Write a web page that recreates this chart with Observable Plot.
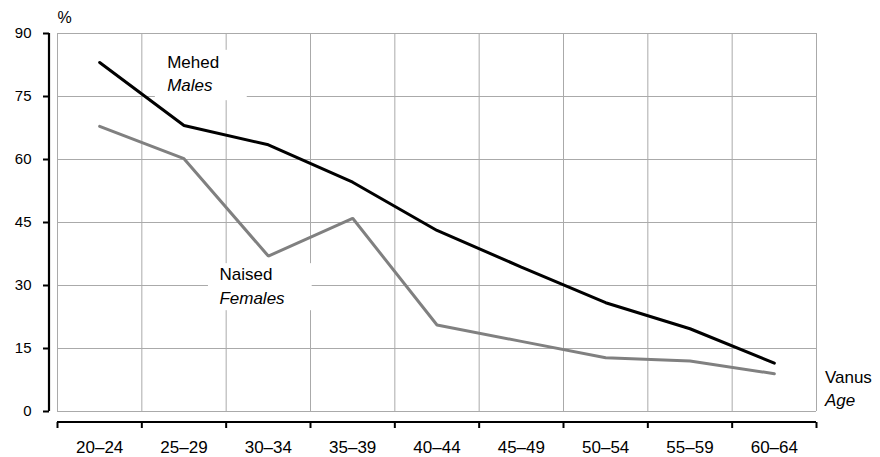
<!DOCTYPE html>
<html>
<head>
<meta charset="utf-8">
<script src="https://cdn.jsdelivr.net/npm/d3@7"></script>
<script src="https://cdn.jsdelivr.net/npm/@observablehq/plot@0.6"></script>
<style>
  html, body { margin: 0; padding: 0; background: #fff; }
  svg { display: block; }
</style>
</head>
<body>
<div id="chart"></div>
<script>
// ---- data ----
const ageGroups = ["20–24", "25–29", "30–34", "35–39", "40–44", "45–49", "50–54", "55–59", "60–64"];
const males   = [83.1, 68.1, 63.5, 54.6, 43.1, 34.4, 25.9, 19.7, 11.5];
const females = [67.9, 60.2, 37.0, 46.0, 20.6, 16.7, 12.8, 12.0, 9.0];
const yTicks = [0, 15, 30, 45, 60, 75, 90];
const maleLabel = ["Mehed", "Males"];
const femaleLabel = ["Naised", "Females"];
const xTitle = ["Vanus", "Age"];
const yTitle = "%";

// ---- build ----
const rows = ageGroups.map((g, i) => ({i, g, males: males[i], females: females[i]}));
const n = ageGroups.length;
const boundaries = d3.range(n + 1);
const mid = d => d.i + 0.5;
const font = "'Liberation Sans', Arial, Helvetica, sans-serif";

// annotation placement (data coordinates)
const boxes = [
  {x1: 1.16, x2: 2.25, y1: 74, y2: 86},
  {x1: 1.79, x2: 3.02, y1: 24, y2: 35.2}
];

const chart = Plot.plot({
  width: 880,
  height: 457,
  marginLeft: 49,
  marginRight: 64,
  marginTop: 33,
  marginBottom: 35,
  style: {fontFamily: font, fontSize: "15px", color: "#000", background: "#fff"},
  x: {type: "linear", domain: [0, n], insetLeft: 8},
  y: {domain: [0, 90], insetBottom: 11},
  marks: [
    Plot.ruleY(yTicks, {x1: 0, x2: n, stroke: "#aaa", strokeWidth: 1}),
    Plot.ruleX(boundaries, {y1: 0, y2: 90, stroke: "#aaa", strokeWidth: 1}),
    Plot.rect(boxes, {x1: "x1", x2: "x2", y1: "y1", y2: "y2", fill: "#fff"}),
    Plot.axisY({ticks: yTicks, tickSize: 6, tickPadding: 12, stroke: "#000", strokeWidth: 2, label: null, fontSize: 15}),
    Plot.ruleX([0], {y1: 0, y2: 90, dx: -8.5, stroke: "#000", strokeWidth: 2.2}),
    Plot.axisX({ticks: boundaries, tickFormat: () => "", tickSize: 6, stroke: "#000", strokeWidth: 2, label: null}),
    Plot.ruleY([0], {x1: 0, x2: n, dy: 10.5, stroke: "#000", strokeWidth: 2.2}),
    Plot.text(rows, {x: mid, y: 0, text: "g", dy: 41, lineAnchor: "bottom", fontSize: 17}),
    Plot.line(rows, {x: mid, y: "females", stroke: "#808080", strokeWidth: 3, strokeLinejoin: "miter"}),
    Plot.line(rows, {x: mid, y: "males", stroke: "#000", strokeWidth: 3, strokeLinejoin: "miter"}),
    Plot.text([maleLabel[0]], {x: 1.30, y: 81.8, text: d => d, textAnchor: "start", lineAnchor: "bottom", fontSize: 17}),
    Plot.text([maleLabel[1]], {x: 1.30, y: 76.3, text: d => d, textAnchor: "start", lineAnchor: "bottom", fontSize: 17, fontStyle: "italic"}),
    Plot.text([femaleLabel[0]], {x: 1.92, y: 31.2, text: d => d, textAnchor: "start", lineAnchor: "bottom", fontSize: 17}),
    Plot.text([femaleLabel[1]], {x: 1.92, y: 25.5, text: d => d, textAnchor: "start", lineAnchor: "bottom", fontSize: 17, fontStyle: "italic"}),
    Plot.text([xTitle[0]], {x: 9.10, y: 6.7, text: d => d, textAnchor: "start", lineAnchor: "bottom", fontSize: 17}),
    Plot.text([xTitle[1]], {x: 9.10, y: 1.4, text: d => d, textAnchor: "start", lineAnchor: "bottom", fontSize: 17, fontStyle: "italic"}),
    Plot.text([yTitle], {x: 0, y: 92.4, text: d => d, textAnchor: "start", lineAnchor: "bottom", fontSize: 16})
  ]
});

document.getElementById("chart").appendChild(chart);
</script>
</body>
</html>
